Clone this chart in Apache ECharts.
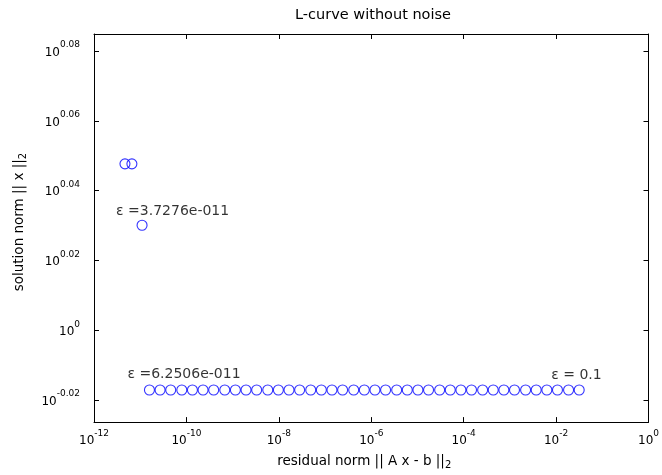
<!DOCTYPE html>
<html lang="en">
<head>
  <meta charset="UTF-8">
  <title>L-curve without noise</title>
  <style>
    html, body { margin: 0; padding: 0; background: #fff; }
    #chart { width: 662px; height: 475px; }
  </style>
</head>
<body>
  <div id="chart"></div>

  <script src="https://cdn.jsdelivr.net/npm/echarts@6/dist/echarts.min.js"></script>
  <script>
    // values are log10 of the norms
    var upperResidualExp = [-11.33, -11.18, -10.96];
    var upperSolutionExp = [0.0477, 0.0477, 0.0301];

    var lowerResidualExp = [
      -10.80, -10.57, -10.34, -10.10, -9.87, -9.64, -9.41, -9.17, -8.94, -8.71,
      -8.48, -8.24, -8.01, -7.78, -7.55, -7.31, -7.08, -6.85, -6.62, -6.38,
      -6.15, -5.92, -5.69, -5.45, -5.22, -4.99, -4.76, -4.52, -4.29, -4.06,
      -3.83, -3.59, -3.36, -3.13, -2.90, -2.66, -2.43, -2.20, -1.97, -1.73,
      -1.50
    ];
    var lowerSolutionExp = -0.0171;

    var xTickValues = [-12, -10, -8, -6, -4, -2, 0];
    var xTickLabels = ['-12', '-10', '-8', '-6', '-4', '-2', '0'];
    var yTickValues = [-0.02, 0, 0.02, 0.04, 0.06, 0.08];
    var yTickLabels = ['-0.02', '0', '0.02', '0.04', '0.06', '0.08'];

    // which point carries which epsilon text
    var epsNotes = [
      { series: 'upper', index: 2, text: 'ε =3.7276e-011' },
      { series: 'lower', index: 0, text: 'ε =6.2506e-011' },
      { series: 'lower', index: 40, text: 'ε = 0.1' }
    ];
  </script>

  <script>
    var FONT = 'DejaVu Sans';
    var noteOffset = {
      'upper-2': [-26, -14],
      'lower-0': [-22, -16],
      'lower-40': [-28, -15]
    };

    function powLabel(ticks, labels) {
      return function (v) {
        for (var i = 0; i < ticks.length; i++) {
          if (Math.abs(ticks[i] - v) < 1e-9) return '{b|10}{s|' + labels[i] + '}';
        }
        return '';
      };
    }

    var powRich = {
      b: { fontFamily: FONT, fontSize: 12, color: '#000', lineHeight: 18, verticalAlign: 'bottom' },
      s: { fontFamily: FONT, fontSize: 9, color: '#000', lineHeight: 9, verticalAlign: 'top' }
    };

    function pointsOf(name, xs, ys) {
      return xs.map(function (x, i) {
        var y = Array.isArray(ys) ? ys[i] : ys;
        var item = { value: [x, y] };
        epsNotes.forEach(function (n) {
          if (n.series === name && n.index === i) {
            item.label = {
              show: true,
              position: 'inside',
              align: 'left',
              offset: noteOffset[name + '-' + i],
              formatter: n.text,
              fontFamily: FONT,
              fontSize: 14,
              color: '#000'
            };
          }
        });
        return item;
      });
    }

    var frameLine = { show: true, onZero: false, lineStyle: { color: '#000', width: 1 } };
    var circleStyle = { color: 'rgba(0,0,0,0)', borderColor: '#0000ff', borderWidth: 1.1 };
    var subRich = { sub: { fontFamily: FONT, fontSize: 10, color: '#000', lineHeight: 10, verticalAlign: 'bottom' } };

    var chart = echarts.init(document.getElementById('chart'));
    chart.setOption({
      animation: false,
      backgroundColor: '#fff',
      graphic: [{
        type: 'text',
        x: 373,
        y: 15,
        style: {
          text: 'L-curve without noise',
          fontFamily: FONT,
          fontSize: 14.5,
          fill: '#000',
          align: 'center',
          verticalAlign: 'middle'
        }
      }],
      grid: { left: 94, right: 9, top: 34, bottom: 52 },
      xAxis: [{
        type: 'value',
        min: -12, max: 0, interval: 2,
        axisLine: frameLine,
        axisTick: { inside: true, length: 5, lineStyle: { color: '#000' } },
        splitLine: { show: false },
        axisLabel: { margin: 7, formatter: powLabel(xTickValues, xTickLabels), rich: powRich },
        name: 'residual norm || A x - b ||{sub|2}',
        nameLocation: 'middle',
        nameGap: 24,
        nameTextStyle: {
          fontFamily: FONT, fontSize: 13.5, color: '#000', lineHeight: 18,
          padding: [0, 14, 0, 0],
          rich: subRich
        }
      }, {
        type: 'value',
        position: 'top',
        min: -12, max: 0, interval: 2,
        axisLine: frameLine,
        axisTick: { inside: true, length: 5, lineStyle: { color: '#000' } },
        axisLabel: { show: false },
        splitLine: { show: false }
      }],
      yAxis: [{
        type: 'value',
        min: -0.0263, max: 0.0849,
        axisLine: frameLine,
        axisTick: { inside: true, length: 5, customValues: yTickValues, lineStyle: { color: '#000' } },
        splitLine: { show: false },
        axisLabel: {
          margin: 14,
          padding: [0, 0, 3, 0],
          customValues: yTickValues,
          formatter: powLabel(yTickValues, yTickLabels),
          rich: powRich
        },
        name: 'solution norm || x ||{sub|2}',
        nameLocation: 'middle',
        nameGap: 66,
        nameTextStyle: {
          fontFamily: FONT, fontSize: 13.5, color: '#000', lineHeight: 18,
          padding: [0, 0, 0, 12],
          rich: subRich
        }
      }, {
        type: 'value',
        position: 'right',
        min: -0.0263, max: 0.0849,
        axisLine: frameLine,
        axisTick: { inside: true, length: 5, customValues: yTickValues, lineStyle: { color: '#000' } },
        axisLabel: { show: false },
        splitLine: { show: false }
      }],
      series: [{
        type: 'scatter',
        name: 'upper',
        symbol: 'circle',
        symbolSize: 10,
        itemStyle: circleStyle,
        emphasis: { disabled: true },
        data: pointsOf('upper', upperResidualExp, upperSolutionExp)
      }, {
        type: 'scatter',
        name: 'lower',
        symbol: 'circle',
        symbolSize: 10,
        itemStyle: circleStyle,
        emphasis: { disabled: true },
        data: pointsOf('lower', lowerResidualExp, lowerSolutionExp)
      }]
    });
  </script>
</body>
</html>
